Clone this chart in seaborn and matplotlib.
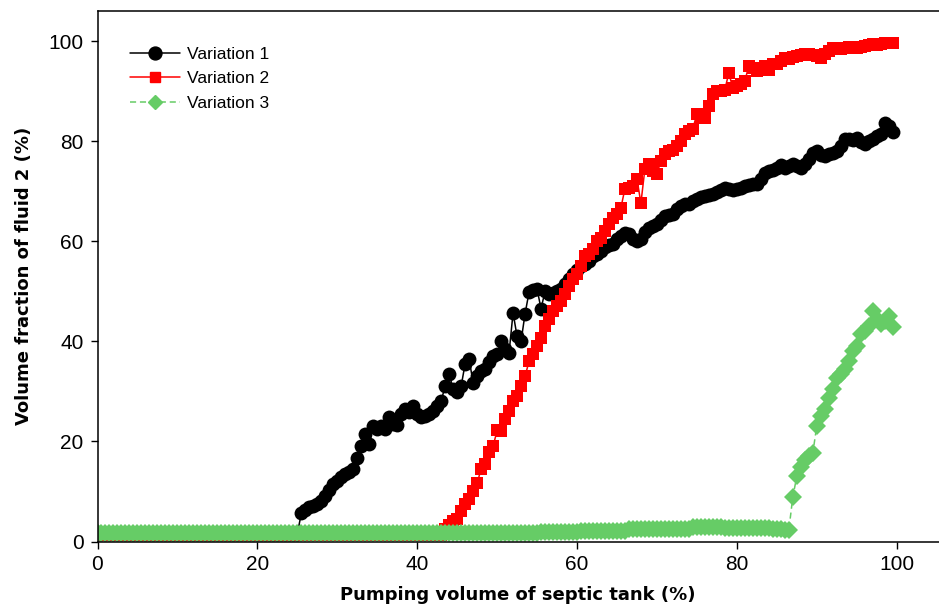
import numpy as np
import pandas as pd
import matplotlib
matplotlib.use("Agg")
import matplotlib.pyplot as plt
import seaborn as sns
from matplotlib.lines import Line2D

# Sampling step of the pumping volume (%)
STEP = 0.5

# Variation 1: flat until 25 %, then readings from 25.5 % to 99.5 %
v1_start = 25.5
v1_base = 1.5
v1_rise = [
    5.6, 6.2, 6.8, 7.0, 7.4, 8.0, 9.0, 10.2, 11.5, 12.0,
    12.8, 13.5, 13.8, 14.5, 16.6, 19.0, 21.5, 19.5, 23.0, 22.5,
    23.0, 22.5, 24.8, 23.5, 23.2, 25.5, 26.5, 25.8, 27.1, 25.5,
    24.8, 25.0, 25.5, 26.0, 27.0, 28.1, 31.0, 33.5, 30.5, 29.8,
    31.0, 35.5, 36.5, 31.7, 33.0, 34.0, 34.5, 35.8, 37.0, 37.5,
    40.0, 38.5, 37.7, 45.7, 41.0, 40.0, 45.5, 49.8, 50.2, 50.5,
    46.5, 50.0, 49.5, 49.7, 50.0, 50.5, 51.5, 52.5, 53.5, 54.2,
    55.0, 55.5, 56.0, 57.0, 57.5, 58.0, 58.8, 59.3, 59.5, 60.5,
    61.0, 61.7, 61.5, 60.5, 60.0, 60.5, 61.8, 62.7, 63.0, 63.5,
    64.2, 65.0, 65.2, 65.5, 66.5, 67.0, 67.5, 67.5, 68.0, 68.5,
    68.8, 69.0, 69.2, 69.5, 69.8, 70.3, 70.7, 70.5, 70.2, 70.5,
    70.7, 71.0, 71.2, 71.5, 71.5, 72.5, 73.7, 74.0, 74.2, 74.7,
    75.2, 74.7, 75.0, 75.5, 75.0, 74.7, 75.5, 76.5, 77.6, 78.0,
    77.3, 77.0, 77.4, 77.6, 78.0, 79.0, 80.4, 80.5, 80.2, 80.6,
    79.8, 79.4, 80.0, 80.5, 81.0, 81.5, 83.6, 83.0, 81.8,
]

# Variation 2: flat until 43 %, then readings from 43.5 % to 99.5 %
v2_start = 43.5
v2_base = 1.2
v2_rise = [
    2.5, 3.2, 4.0, 4.5, 6.0, 7.5, 8.5, 10.0, 11.6, 14.5,
    15.5, 17.8, 19.0, 22.2, 22.0, 24.5, 26.1, 28.0, 29.1, 31.0,
    33.0, 36.0, 37.5, 39.0, 40.7, 43.0, 44.5, 46.1, 47.0, 48.0,
    49.5, 51.0, 52.5, 53.5, 55.0, 57.0, 57.5, 58.5, 60.0, 60.7,
    62.0, 63.5, 64.7, 65.5, 66.7, 70.5, 70.7, 71.0, 72.5, 67.6,
    74.5, 75.4, 74.0, 73.5, 76.0, 77.5, 78.0, 78.3, 79.0, 80.0,
    81.4, 82.0, 82.5, 85.4, 84.8, 84.6, 87.0, 89.4, 90.0, 90.0,
    90.3, 93.6, 90.6, 91.0, 91.4, 92.0, 95.0, 94.6, 94.0, 94.5,
    95.0, 94.2, 95.4, 95.5, 96.0, 96.6, 96.5, 96.8, 97.0, 97.2,
    97.4, 97.5, 97.2, 97.0, 96.6, 97.5, 98.0, 98.6, 98.5, 98.4,
    98.6, 98.8, 98.7, 98.6, 98.9, 99.0, 99.2, 99.4, 99.3, 99.5,
    99.6, 99.6, 99.6,
]

# Variation 3: low plateau up to 86.5 %, then readings from 87 % to 99.5 %
v3_start = 87.0
v3_plateau = (
    [1.6] * 111 + [1.9] * 10 + [2.1] * 12 + [2.4] * 16
    + [2.9] * 8 + [2.6] * 12 + [2.4, 2.4, 2.4, 2.3, 2.2]
)
v3_rise = [
    8.8, 13.0, 14.8, 16.2, 17.0, 17.6, 23.0, 25.0, 26.5, 28.7,
    30.5, 32.7, 33.5, 34.5, 36.0, 38.1, 39.0, 41.5, 42.0, 43.0,
    46.1, 44.5, 43.5, 44.0, 45.0, 42.8,
]

labels = ["Variation 1", "Variation 2", "Variation 3"]
x_ticks = [0, 20, 40, 60, 80, 100]
y_ticks = [0, 20, 40, 60, 80, 100]


def series(start, base, rise):
    n_flat = int(round(start / STEP))
    x_flat = np.arange(n_flat) * STEP
    x_rise = start + np.arange(len(rise)) * STEP
    y_flat = base if isinstance(base, list) else [base] * n_flat
    return np.concatenate([x_flat, x_rise]), np.array(list(y_flat) + list(rise))


x1, y1 = series(v1_start, v1_base, v1_rise)
x2, y2 = series(v2_start, v2_base, v2_rise)
x3, y3 = series(v3_start, v3_plateau, v3_rise)

frames = []
for name, xs, ys in zip(labels, [x1, x2, x3], [y1, y2, y3]):
    frames.append(pd.DataFrame({"pump": xs, "frac": ys, "series": name}))
df = pd.concat(frames, ignore_index=True)

sns.set_style("ticks")
plt.rcParams["font.family"] = ["Liberation Sans", "DejaVu Sans"]
plt.rcParams["text.color"] = "black"
plt.rcParams["axes.labelcolor"] = "black"

W, H = 939, 610
fig = plt.figure(figsize=(W / 100, H / 100), dpi=100)
left_px, right_px, top_px, bottom_px = 97.5, 939, 11, 541.5
ax = fig.add_axes([left_px / W, (H - bottom_px) / H,
                   (right_px - left_px) / W, (bottom_px - top_px) / H])

GREEN = "#66cc66"
DASH = (0, (4, 2.5))
styles = {
    "Variation 1": dict(color="black", marker="o", ms=10.0, ls="-"),
    "Variation 2": dict(color="#ff0000", marker="s", ms=9.3, ls="-"),
    "Variation 3": dict(color=GREEN, marker="D", ms=9.0, ls=DASH),
}
for name in labels:
    st = styles[name]
    sub = df[df["series"] == name]
    sns.lineplot(data=sub, x="pump", y="frac", ax=ax, color=st["color"],
                 marker=st["marker"], markersize=st["ms"], linestyle=st["ls"],
                 linewidth=1.1, markeredgecolor=st["color"],
                 markeredgewidth=0.0, legend=False, estimator=None, sort=False)

ax.set_xlim(0, 105.3)
ax.set_ylim(0, 106.0)
ax.set_xticks(x_ticks)
ax.set_yticks(y_ticks)
ax.spines["right"].set_visible(False)
for s in ["left", "bottom", "top"]:
    ax.spines[s].set_linewidth(1.1)
    ax.spines[s].set_color("black")
ax.tick_params(axis="both", direction="out", length=5, width=1.0,
               pad=5, labelsize=15, colors="black")

ax.set_xlabel("Pumping volume of septic tank (%)", fontsize=13,
              fontweight="bold", family="DejaVu Sans", labelpad=8,
              color="black")
ax.set_ylabel("Volume fraction of fluid 2 (%)", fontsize=13,
              fontweight="bold", family="DejaVu Sans", labelpad=11,
              color="black")

handles = [
    Line2D([], [], color="black", marker="o", ms=9.3, lw=1.1),
    Line2D([], [], color="#ff0000", marker="s", ms=6.5, lw=1.1),
    Line2D([], [], color=GREEN, marker="D", ms=7.0, lw=1.1, ls=DASH),
]
ax.legend(handles, labels, loc="upper left", bbox_to_anchor=(0.0386, 0.932),
          frameon=False, fontsize=12.5, handlelength=2.9, handletextpad=0.4,
          labelspacing=0.52, borderpad=0, borderaxespad=0)

fig.savefig("out.png", dpi=100)
